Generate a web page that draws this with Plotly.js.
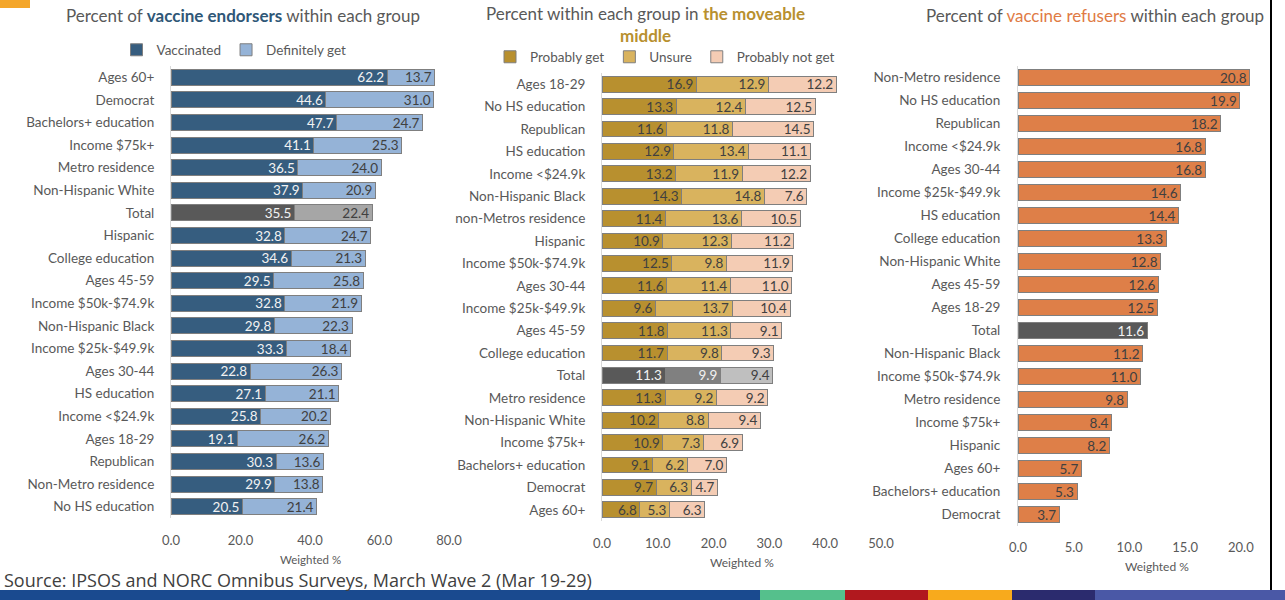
<!DOCTYPE html>
<html>
<head>
<meta charset="utf-8">
<script src="https://cdn.plot.ly/plotly-3.0.1.min.js"></script>
<style>html,body{margin:0;padding:0;background:#fff;}#chart{width:1285px;height:600px;}</style>
</head>
<body>
<div id="chart"></div>
<script>
// ---------- Panel 1: vaccine endorsers ----------
const cats1 = ["Ages 60+","Democrat","Bachelors+ education","Income $75k+","Metro residence","Non-Hispanic White","Total","Hispanic","College education","Ages 45-59","Income $50k-$74.9k","Non-Hispanic Black","Income $25k-$49.9k","Ages 30-44","HS education","Income <$24.9k","Ages 18-29","Republican","Non-Metro residence","No HS education"];
const vaccinated    = [62.2,44.6,47.7,41.1,36.5,37.9,35.5,32.8,34.6,29.5,32.8,29.8,33.3,22.8,27.1,25.8,19.1,30.3,29.9,20.5];
const definitelyGet = [13.7,31.0,24.7,25.3,24.0,20.9,22.4,24.7,21.3,25.8,21.9,22.3,18.4,26.3,21.1,20.2,26.2,13.6,13.8,21.4];

// ---------- Panel 2: moveable middle ----------
const cats2 = ["Ages 18-29","No HS education","Republican","HS education","Income <$24.9k","Non-Hispanic Black","non-Metros residence","Hispanic","Income $50k-$74.9k","Ages 30-44","Income $25k-$49.9k","Ages 45-59","College education","Total","Metro residence","Non-Hispanic White","Income $75k+","Bachelors+ education","Democrat","Ages 60+"];
const probablyGet    = [16.9,13.3,11.6,12.9,13.2,14.3,11.4,10.9,12.5,11.6,9.6,11.8,11.7,11.3,11.3,10.2,10.9,9.1,9.7,6.8];
const unsure         = [12.9,12.4,11.8,13.4,11.9,14.8,13.6,12.3,9.8,11.4,13.7,11.3,9.8,9.9,9.2,8.8,7.3,6.2,6.3,5.3];
const probablyNotGet = [12.2,12.5,14.5,11.1,12.2,7.6,10.5,11.2,11.9,11.0,10.4,9.1,9.3,9.4,9.2,9.4,6.9,7.0,4.7,6.3];

// ---------- Panel 3: vaccine refusers ----------
const cats3 = ["Non-Metro residence","No HS education","Republican","Income <$24.9k","Ages 30-44","Income $25k-$49.9k","HS education","College education","Non-Hispanic White","Ages 45-59","Ages 18-29","Total","Non-Hispanic Black","Income $50k-$74.9k","Metro residence","Income $75k+","Hispanic","Ages 60+","Bachelors+ education","Democrat"];
const refusers = [20.8,19.9,18.2,16.8,16.8,14.6,14.4,13.3,12.8,12.6,12.5,11.6,11.2,11.0,9.8,8.4,8.2,5.7,5.3,3.7];

// ---------- tick labels ----------
const ticks1 = [0,20,40,60,80];
const ticks2 = [0,10,20,30,40,50];
const ticks3 = [0,5,10,15,20];

const FONT = 'Lato, "Open Sans", sans-serif';
const GRAY = '#595959';
const LINE = {color:'#7f7f7f', width:1};

function perCat(cats, normal, total){ return cats.map(c => c === 'Total' ? total : normal); }

function barTrace(name, cats, vals, xa, ya, color, totalColor, txt, totalTxt, legend, showlegend){
  return {
    type:'bar', orientation:'h', name:name, x:vals, y:cats, xaxis:xa, yaxis:ya,
    marker:{color:perCat(cats,color,totalColor), line:LINE},
    texttemplate:'%{x:.1f}', textposition:'inside', insidetextanchor:'end',
    textangle:0, constraintext:'none', cliponaxis:false,
    textfont:{family:FONT, size:13.5, color:perCat(cats,txt,totalTxt)},
    hoverinfo:'y+x', legend:legend, showlegend:showlegend
  };
}

const data = [
  barTrace('Vaccinated', cats1, vaccinated, 'x', 'y', '#365d7f', '#595959', '#f2f2f2', '#f2f2f2', 'legend', true),
  barTrace('Definitely get', cats1, definitelyGet, 'x', 'y', '#95b3d7', '#a6a6a6', '#404040', '#404040', 'legend', true),
  barTrace('Probably get', cats2, probablyGet, 'x2', 'y2', '#b8902f', '#595959', '#404040', '#f2f2f2', 'legend2', true),
  barTrace('Unsure', cats2, unsure, 'x2', 'y2', '#d9b35e', '#808080', '#404040', '#f2f2f2', 'legend2', true),
  barTrace('Probably not get', cats2, probablyNotGet, 'x2', 'y2', '#f4ccb4', '#bfbfbf', '#404040', '#404040', 'legend2', true),
  barTrace('Vaccine refusers', cats3, refusers, 'x3', 'y3', '#de7f48', '#595959', '#404040', '#f2f2f2', 'legend', false)
];

function xAxis(domain, range, ticks, anchor, standoff){
  return {domain:domain, range:range, anchor:anchor, tickvals:ticks, ticktext:ticks.map(v=>v.toFixed(1)),
    showgrid:false, zeroline:false, showline:false, ticks:'', ticklabelstandoff:standoff,
    tickfont:{family:FONT, size:13, color:GRAY}, fixedrange:true};
}
function yAxis(domain, anchor, standoff){
  return {domain:domain, anchor:anchor, type:'category', autorange:'reversed',
    showgrid:false, zeroline:false, showline:true, linecolor:'#d9d9d9', linewidth:1, ticks:'',
    ticklabelstandoff:standoff, tickfont:{family:FONT, size:13.5, color:GRAY}, fixedrange:true};
}

const W = 1285, H = 600;
const px = v => v / W, py = v => 1 - v / H;

const layout = {
  width:W, height:H, margin:{l:0,r:0,t:0,b:0}, paper_bgcolor:'#fff', plot_bgcolor:'#fff',
  font:{family:FONT, color:GRAY}, barmode:'stack', bargap:0.3, showlegend:true,
  xaxis: xAxis([px(171), px(449)], [0,80], ticks1, 'y', 13),
  yaxis: yAxis([py(518), py(66)], 'x', 13),
  xaxis2: xAxis([px(602), px(881)], [0,50], ticks2, 'y2', 13),
  yaxis2: yAxis([py(521), py(73)], 'x2', 13),
  xaxis3: xAxis([px(1018), px(1252)], [0,21], ticks3, 'y3', 12),
  yaxis3: yAxis([py(526), py(66)], 'x3', 14),
  legend:{orientation:'h', x:px(234), xanchor:'center', y:py(50), yanchor:'middle',
    font:{family:FONT, size:13.5, color:GRAY}, itemwidth:30, bgcolor:'rgba(0,0,0,0)', traceorder:'normal'},
  legend2:{orientation:'h', x:px(665), xanchor:'center', y:py(57), yanchor:'middle',
    font:{family:FONT, size:13.5, color:GRAY}, itemwidth:30, bgcolor:'rgba(0,0,0,0)', traceorder:'normal'},
  annotations:[
    {xref:'paper', yref:'paper', x:px(243), y:py(15), xanchor:'center', yanchor:'middle', showarrow:false,
     text:'Percent of <b><span style="color:#2f5777">vaccine endorsers</span></b> within each group',
     font:{family:FONT, size:17, color:GRAY}},
    {xref:'paper', yref:'paper', x:px(645), y:py(25), xanchor:'center', yanchor:'middle', showarrow:false,
     text:'Percent within each group in <b><span style="color:#b8902f">the moveable</span></b><br><b><span style="color:#b8902f">middle</span></b>',
     font:{family:FONT, size:17, color:GRAY}},
    {xref:'paper', yref:'paper', x:px(1095), y:py(16), xanchor:'center', yanchor:'middle', showarrow:false,
     text:'Percent of <span style="color:#e07b45">vaccine refusers</span> within each group',
     font:{family:FONT, size:17, color:GRAY}},
    {xref:'paper', yref:'paper', x:px(310), y:py(559), xanchor:'center', yanchor:'middle', showarrow:false,
     text:'Weighted %', font:{family:FONT, size:11.5, color:GRAY}},
    {xref:'paper', yref:'paper', x:px(742), y:py(562), xanchor:'center', yanchor:'middle', showarrow:false,
     text:'Weighted %', font:{family:FONT, size:12, color:GRAY}},
    {xref:'paper', yref:'paper', x:px(1157), y:py(566), xanchor:'center', yanchor:'middle', showarrow:false,
     text:'Weighted %', font:{family:FONT, size:12, color:GRAY}},
    {xref:'paper', yref:'paper', x:px(2), y:py(580), xanchor:'left', yanchor:'middle', showarrow:false,
     text:'Source: IPSOS and NORC Omnibus Surveys, March Wave 2 (Mar 19-29)', font:{family:'"Open Sans", sans-serif', size:18, color:'#404040'}}
  ],
  shapes:[
    {type:'rect', xref:'paper', yref:'paper', x0:0, x1:px(30), y0:py(8), y1:1, fillcolor:'#f4a62a', line:{width:0}},
    {type:'line', xref:'paper', yref:'paper', x0:px(1271), x1:px(1271), y0:py(590), y1:1, line:{color:'#000', width:2}},
    {type:'rect', xref:'paper', yref:'paper', x0:0, x1:px(760), y0:0, y1:py(590), fillcolor:'#1a4a8f', line:{width:0}},
    {type:'rect', xref:'paper', yref:'paper', x0:px(760), x1:px(845), y0:0, y1:py(590), fillcolor:'#55c08c', line:{width:0}},
    {type:'rect', xref:'paper', yref:'paper', x0:px(845), x1:px(928), y0:0, y1:py(590), fillcolor:'#b1181e', line:{width:0}},
    {type:'rect', xref:'paper', yref:'paper', x0:px(928), x1:px(1012), y0:0, y1:py(590), fillcolor:'#f8aa1c', line:{width:0}},
    {type:'rect', xref:'paper', yref:'paper', x0:px(1012), x1:px(1095), y0:0, y1:py(590), fillcolor:'#2b2b6e', line:{width:0}},
    {type:'rect', xref:'paper', yref:'paper', x0:px(1095), x1:1, y0:0, y1:py(590), fillcolor:'#4a58a6', line:{width:0}}
  ]
};

Plotly.newPlot('chart', data, layout, {displayModeBar:false, staticPlot:true});
</script>
</body>
</html>
